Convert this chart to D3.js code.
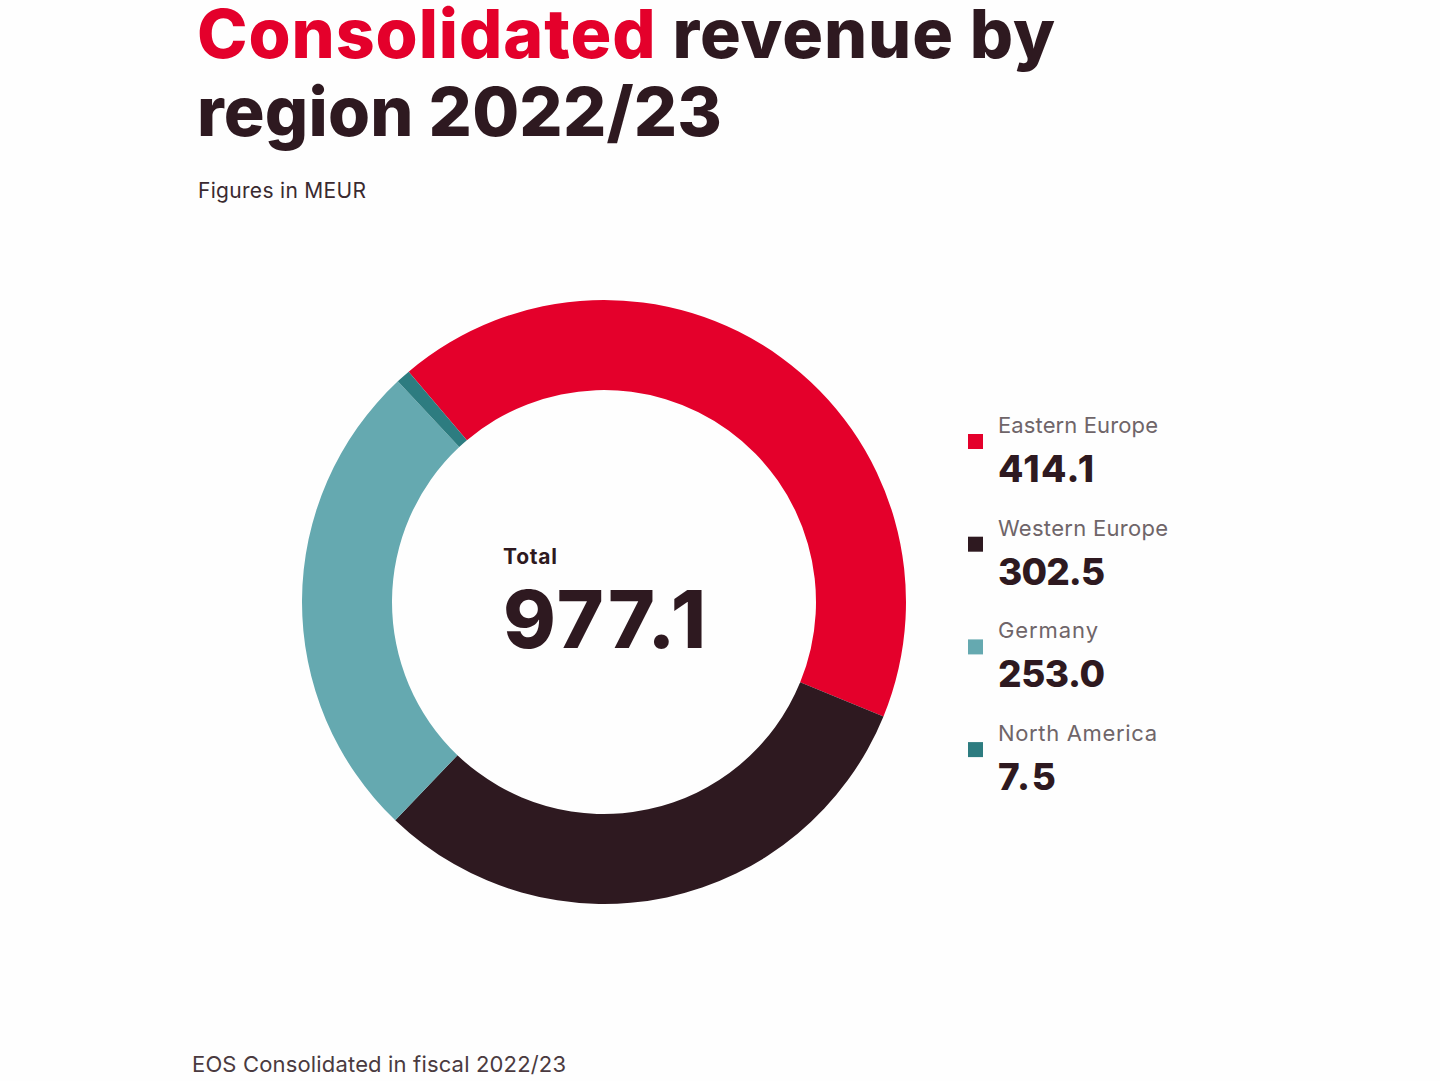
<!DOCTYPE html>
<html><head><meta charset="utf-8">
<script src="https://cdn.jsdelivr.net/npm/d3@7"></script>
<style>
html,body{margin:0;padding:0;background:#fff;}
svg{display:block;}
text{font-family:Inter,Lato,"Open Sans",sans-serif;}
</style></head>
<body>
<script>
const categories = ["Eastern Europe","Western Europe","Germany","North America"];
const values = [414.1, 302.5, 253.0, 7.5];
const valueLabels = ["414.1","302.5","253.0","7.5"];
const colors = ["#e4002b","#2e1920","#65a9b0","#2d7c80"];
const totalLabel = "977.1";

const W = 1440, H = 1081;
const svg = d3.select("body").append("svg").attr("width", W).attr("height", H);
svg.append("rect").attr("width", W).attr("height", H).attr("fill", "#fefefe");

const dark = "#2e1920", red = "#e4002b";

// adjust letter spacing so a text spans a target width
function fit(sel, target) {
  sel.each(function () {
    const n = this.getNumberOfChars();
    const w = this.getComputedTextLength();
    const ls = (target - w) / Math.max(1, n - 1);
    d3.select(this).attr("letter-spacing", ls);
  });
}

// Title
const t1 = svg.append("text").attr("x", 197).attr("y", 58)
  .attr("font-size", 68).attr("font-weight", 800);
t1.append("tspan").attr("fill", red).text("Consolidated");
t1.append("tspan").attr("fill", dark).text(" revenue by");
fit(t1, 858);
const t2 = svg.append("text").attr("x", 197).attr("y", 136)
  .attr("font-size", 68).attr("font-weight", 800).attr("fill", dark)
  .text("region 2022/23");
fit(t2, 525);
fit(svg.append("text").attr("x", 198).attr("y", 198).attr("font-size", 21)
  .attr("fill", "#3a2a30").text("Figures in MEUR"), 168);

// Donut
const cx = 604, cy = 602;
const startDeg = -40.3;
const pie = d3.pie().sort(null).value(d => d)
  .startAngle(startDeg * Math.PI / 180)
  .endAngle((startDeg + 360) * Math.PI / 180);
const arc = d3.arc().innerRadius(212).outerRadius(302);
const g = svg.append("g").attr("transform", `translate(${cx},${cy})`);
g.selectAll("path").data(pie(values)).join("path")
  .attr("d", arc).attr("fill", (d, i) => colors[i]);

// Center
fit(svg.append("text").attr("x", 503).attr("y", 564).attr("font-size", 21)
  .attr("font-weight", 700).attr("fill", dark).text("Total"), 54);
fit(svg.append("text").attr("x", 503).attr("y", 648).attr("font-size", 80)
  .attr("font-weight", 800).attr("fill", dark).text(totalLabel), 203);

// Legend
const labelW = [160, 170, 100, 159];
const valueW = [96, 107, 107, 58];
const items = svg.append("g").selectAll("g").data(categories).join("g")
  .attr("transform", (d, i) => `translate(0,${i * 102.7})`);
items.append("rect").attr("x", 968).attr("y", 434).attr("width", 15).attr("height", 15)
  .attr("fill", (d, i) => colors[i]);
items.append("text").attr("x", 998).attr("y", 433).attr("font-size", 22)
  .attr("fill", "#6f6569").text(d => d)
  .each(function (d, i) { fit(d3.select(this), labelW[i]); });
items.append("text").attr("x", 998).attr("y", 482).attr("font-size", 37)
  .attr("font-weight", 800).attr("fill", dark).text((d, i) => valueLabels[i])
  .each(function (d, i) { fit(d3.select(this), valueW[i]); });

// Footer
fit(svg.append("text").attr("x", 192).attr("y", 1072).attr("font-size", 22)
  .attr("fill", "#4a3a40").text("EOS Consolidated in fiscal 2022/23"), 374);
</script>
</body></html>
